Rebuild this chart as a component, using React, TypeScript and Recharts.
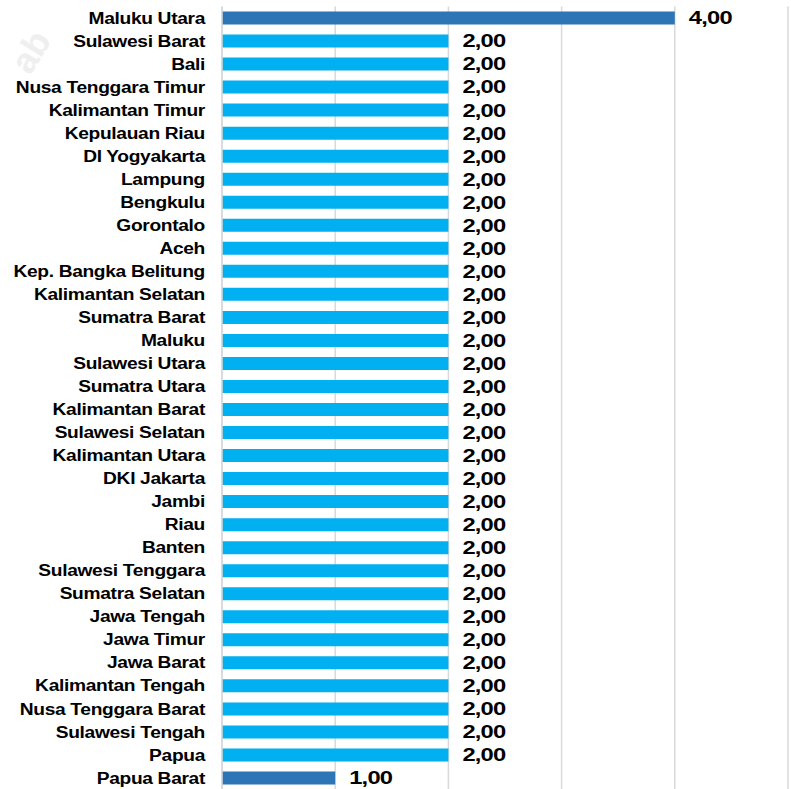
import { BarChart, Bar, XAxis, YAxis, CartesianGrid, Cell, LabelList } from 'recharts'

const provinces = [
  'Maluku Utara', 'Sulawesi Barat', 'Bali', 'Nusa Tenggara Timur', 'Kalimantan Timur',
  'Kepulauan Riau', 'DI Yogyakarta', 'Lampung', 'Bengkulu', 'Gorontalo', 'Aceh',
  'Kep. Bangka Belitung', 'Kalimantan Selatan', 'Sumatra Barat', 'Maluku', 'Sulawesi Utara',
  'Sumatra Utara', 'Kalimantan Barat', 'Sulawesi Selatan', 'Kalimantan Utara', 'DKI Jakarta',
  'Jambi', 'Riau', 'Banten', 'Sulawesi Tenggara', 'Sumatra Selatan', 'Jawa Tengah',
  'Jawa Timur', 'Jawa Barat', 'Kalimantan Tengah', 'Nusa Tenggara Barat', 'Sulawesi Tengah',
  'Papua', 'Papua Barat'
]
const values = [
  4, 2, 2, 2, 2, 2, 2, 2, 2, 2, 2, 2, 2, 2, 2, 2, 2, 2, 2, 2, 2, 2, 2, 2, 2, 2, 2,
  2, 2, 2, 2, 2, 2, 1
]
const highlighted = ['Maluku Utara', 'Papua Barat']
const xTicks = [0, 1, 2, 3, 4, 5]

const data = provinces.map((name, i) => ({ name, value: values[i] }))

const LIGHT = '#00B0F0'
const DARK = '#2E75B6'
const FONT = '"Liberation Sans", Arial, sans-serif'

function ProvinceTick(props: any) {
  const { y, payload } = props
  return (
    <text
      transform={`translate(205, ${y}) scale(1.13, 1)`}
      textAnchor="end"
      dominantBaseline="central"
      fontFamily={FONT}
      fontWeight="bold"
      fontSize={17}
      letterSpacing={-0.3}
      fill="#000"
    >
      {payload.value}
    </text>
  )
}

function ValueLabel(props: any) {
  const { x, y, width, height, value } = props
  const tx = x + width + 14
  const ty = y + height / 2
  return (
    <text
      transform={`translate(${tx}, ${ty}) scale(1.32, 1)`}
      textAnchor="start"
      dominantBaseline="central"
      fontFamily={FONT}
      fontWeight="bold"
      fontSize={18}
      letterSpacing={-0.6}
      fill="#000"
    >
      {Number(value).toFixed(2).replace('.', ',')}
    </text>
  )
}

export default function App() {
  return (
    <div style={{ position: 'absolute', left: 0, top: 0, width: 791, height: 789, overflow: 'hidden', background: '#fff' }}>
      <svg width={90} height={90} style={{ position: 'absolute', left: 0, top: 0 }}>
        <text
          transform="translate(30, 76) rotate(-58)"
          fontFamily={FONT}
          fontWeight="bold"
          fontSize={36}
          fill="#EFEFEF"
        >
          ab
        </text>
      </svg>
      <BarChart
        width={791}
        height={800}
        data={data}
        layout="vertical"
        margin={{ top: 6.5, right: 3, bottom: 10.5, left: 0 }}
        style={{ position: 'absolute', left: 0, top: 0 }}
      >
        <CartesianGrid horizontal={false} stroke="#D9D9D9" strokeWidth={1.5} />
        <XAxis type="number" domain={[0, 5]} ticks={xTicks} hide />
        <YAxis
          type="category"
          dataKey="name"
          width={222}
          interval={0}
          tickLine={false}
          axisLine={{ stroke: '#D9D9D9', strokeWidth: 1.5 }}
          tick={<ProvinceTick />}
        />
        <Bar dataKey="value" barSize={13} isAnimationActive={false}>
          {data.map((d) => (
            <Cell key={d.name} fill={highlighted.includes(d.name) ? DARK : LIGHT} />
          ))}
          <LabelList dataKey="value" content={<ValueLabel />} />
        </Bar>
      </BarChart>
    </div>
  )
}
